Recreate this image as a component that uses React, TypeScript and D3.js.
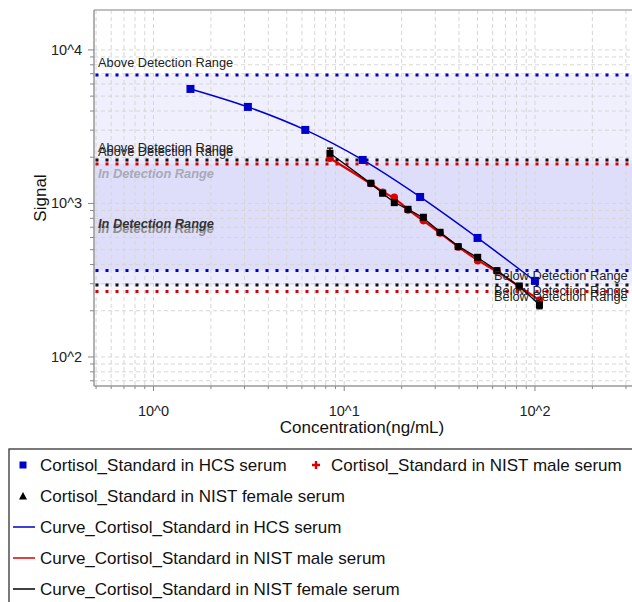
import React from "react";
import * as d3 from "d3";

// ---------- data ----------
const hcsConc = [1.5625, 3.125, 6.25, 12.5, 25, 50, 100];
const hcsSignal = [5570, 4254, 3012, 1920, 1102, 596, 313];

const nistConc = [8.42, 13.8, 15.9, 18.3, 21.6, 26.0, 31.8, 39.6, 50.1, 63.2, 82.7, 105.6];
const maleSignal = [1970, 1350, 1180, 1098, 907, 773, 642, 521, 424, 363, 286, 235];
const femaleSignal = [2123, 1354, 1165, 1012, 916, 813, 649, 523, 446, 365, 290, 218];
const femaleErr = [170, 40, 35, 30, 25, 25, 20, 16, 14, 12, 10, 12];

const rangeSeries = ["HCS", "female", "male"];
const rangeColors = ["#0000cc", "#111111", "#dd0000"];
const rangeUpper = [6875, 1920, 1808];
const rangeLower = [366, 294, 267];
const inRangeColors = ["#a9a9b6", "#333333", "#8c8c8c"];

const xMajorTicks = [1, 10, 100];
const xTickLabels = ["10^0", "10^1", "10^2"];
const yMajorTicks = [100, 1000, 10000];
const yTickLabels = ["10^2", "10^3", "10^4"];

const legendItems = [
  { label: "Cortisol_Standard in HCS serum", kind: "square", color: "#0000cc", x: 0, row: 0 },
  { label: "Cortisol_Standard in NIST male serum", kind: "plus", color: "#dd0000", x: 1, row: 0 },
  { label: "Cortisol_Standard in NIST female serum", kind: "triangle", color: "#000000", x: 0, row: 1 },
  { label: "Curve_Cortisol_Standard in HCS serum", kind: "line", color: "#0000cc", x: 0, row: 2 },
  { label: "Curve_Cortisol_Standard in NIST male serum", kind: "line", color: "#dd0000", x: 0, row: 3 },
  { label: "Curve_Cortisol_Standard in NIST female serum", kind: "line", color: "#000000", x: 0, row: 4 },
];

// ---------- layout ----------
const W = 632;
const H = 602;
const plotL = 94;
const plotR = 630;
const plotT = 10;
const plotB = 386;
const FONT = "'Liberation Sans', Arial, Helvetica, sans-serif";

const x = d3.scaleLog().domain([0.4876, 315]).range([plotL, plotR]);
const y = d3.scaleLog().domain([64.7, 18200]).range([plotB, plotT]);

function minorTicks(lo: number, hi: number) {
  const out: number[] = [];
  for (let p = Math.floor(Math.log10(lo)); p <= Math.ceil(Math.log10(hi)); p++) {
    for (let m = 1; m <= 9; m++) {
      const v = m * Math.pow(10, p);
      if (v >= lo && v <= hi) out.push(v);
    }
  }
  return out;
}

export default function App() {
  const xGrid = minorTicks(0.4876, 400);
  const yGrid = minorTicks(64.7, 18200);

  const hcsPts: [number, number][] = hcsConc.map((c, i) => [x(c), y(hcsSignal[i])]);
  const malePts: [number, number][] = nistConc.map((c, i) => [x(c), y(maleSignal[i])]);
  const femalePts: [number, number][] = nistConc.map((c, i) => [x(c), y(femaleSignal[i])]);

  const lineCR = d3.line().curve(d3.curveCatmullRom.alpha(0.5));
  const lineB = d3.line().curve(d3.curveBasis);

  const bandAlpha = [0.09, 0.05, 0.05];

  return (
    <div style={{ position: "absolute", left: 0, top: 0 }}>
      <svg width={W} height={H} style={{ display: "block", background: "#fff" }} fontFamily={FONT}>
        <defs>
          <clipPath id="plotclip">
            <rect x={plotL} y={plotT} width={W - plotL} height={plotB - plotT} />
          </clipPath>
        </defs>

        {/* bands */}
        <g clipPath="url(#plotclip)">
          {rangeSeries.map((s, i) => (
            <rect
              key={"band" + s}
              x={plotL}
              width={W - plotL}
              y={y(rangeUpper[i])}
              height={y(rangeLower[i]) - y(rangeUpper[i])}
              fill="#5050eb"
              fillOpacity={bandAlpha[i]}
            />
          ))}
        </g>

        {/* grid */}
        <g stroke="#d6d6d6" strokeWidth={1} strokeDasharray="4 3">
          {xGrid.map((v) =>
            x(v) > plotL + 1 && x(v) <= W ? (
              <line key={"gx" + v} x1={x(v)} x2={x(v)} y1={plotT} y2={plotB} />
            ) : null
          )}
          {yGrid.map((v) =>
            y(v) > plotT + 1 && y(v) < plotB - 1 ? (
              <line key={"gy" + v} x1={plotL} x2={W} y1={y(v)} y2={y(v)} />
            ) : null
          )}
        </g>

        {/* axes */}
        <line x1={plotL} x2={W} y1={plotT} y2={plotT} stroke="#aaa" strokeWidth={1.5} />
        <line x1={plotL} x2={plotL} y1={plotT} y2={plotB} stroke="#999" strokeWidth={1.5} />
        <line x1={plotL} x2={W} y1={plotB} y2={plotB} stroke="#999" strokeWidth={1.5} />
        {yGrid.map((v) => (
          <line
            key={"ty" + v}
            x1={plotL - (yMajorTicks.includes(v) ? 6 : 4)}
            x2={plotL}
            y1={y(v)}
            y2={y(v)}
            stroke="#888"
            strokeWidth={1}
          />
        ))}
        {xGrid.map((v) =>
          x(v) > plotL && x(v) <= W ? (
            <line
              key={"tx" + v}
              x1={x(v)}
              x2={x(v)}
              y1={plotB}
              y2={plotB + (xMajorTicks.includes(v) ? 5 : 3)}
              stroke="#888"
              strokeWidth={1}
            />
          ) : null
        )}
        {yMajorTicks.map((v, i) => (
          <text key={"yl" + v} x={82} y={y(v) + 5} textAnchor="end" fontSize={14.5} fill="#222">
            {yTickLabels[i]}
          </text>
        ))}
        {xMajorTicks.map((v, i) => (
          <text key={"xl" + v} x={x(v)} y={416} textAnchor="middle" fontSize={14.5} fill="#222">
            {xTickLabels[i]}
          </text>
        ))}
        <text x={362} y={433} textAnchor="middle" fontSize={17} fill="#111">
          Concentration(ng/mL)
        </text>
        <text
          transform={`translate(46,${(plotT + plotB) / 2}) rotate(-90)`}
          textAnchor="middle"
          fontSize={17}
          fill="#111"
        >
          Signal
        </text>

        {/* detection range lines */}
        <g clipPath="url(#plotclip)">
          {rangeSeries.map((s, i) => (
            <g key={"rl" + s}>
              <line
                x1={plotL + 1.5}
                x2={W}
                y1={y(rangeUpper[i])}
                y2={y(rangeUpper[i])}
                stroke={rangeColors[i]}
                strokeWidth={3}
                strokeDasharray="3 7"
              />
              <line
                x1={plotL + 1.5}
                x2={W}
                y1={y(rangeLower[i])}
                y2={y(rangeLower[i])}
                stroke={rangeColors[i]}
                strokeWidth={3}
                strokeDasharray="3 7"
              />
            </g>
          ))}
        </g>

        {/* range labels */}
        {rangeSeries.map((s, i) => (
          <text key={"ab" + s} x={98} y={y(rangeUpper[i]) - 8} fontSize={12.8} fill="#222">
            Above Detection Range
          </text>
        ))}
        {[0, 2, 1].map((i) => (
          <text
            key={"in" + i}
            x={98}
            y={(y(rangeUpper[i]) + y(rangeLower[i])) / 2 + 5}
            fontSize={12.8}
            fontWeight="bold"
            fontStyle="italic"
            fill={inRangeColors[i]}
          >
            In Detection Range
          </text>
        ))}

        {/* curves */}
        <path d={lineCR(hcsPts) || ""} fill="none" stroke="#0000cc" strokeWidth={1.5} />
        <path d={lineB(malePts) || ""} fill="none" stroke="#dd0000" strokeWidth={2.2} />
        <path d={lineB(femalePts) || ""} fill="none" stroke="#000" strokeWidth={1.3} />

        {/* error bars female */}
        {nistConc.map((c, i) => {
          const cx = x(c);
          const y1 = y(femaleSignal[i] + femaleErr[i]);
          const y2 = y(femaleSignal[i] - femaleErr[i]);
          return (
            <g key={"eb" + i} stroke="#000" strokeWidth={1.3}>
              <line x1={cx} x2={cx} y1={y1} y2={y2} />
              <line x1={cx - 3} x2={cx + 3} y1={y1} y2={y1} />
              <line x1={cx - 3} x2={cx + 3} y1={y2} y2={y2} />
            </g>
          );
        })}

        {/* markers */}
        {malePts.map(([px, py], i) => (
          <circle key={"m" + i} cx={px} cy={py} r={3.8} fill="#dd0000" />
        ))}
        {femalePts.map(([px, py], i) => (
          <rect key={"f" + i} x={px - 3.5} y={py - 3.5} width={7} height={7} fill="#000" />
        ))}
        {hcsPts.map(([px, py], i) => (
          <rect key={"h" + i} x={px - 4} y={py - 4} width={8} height={8} fill="#0000cc" />
        ))}

        {rangeSeries.map((s, i) => (
          <text key={"bl" + s} x={494} y={y(rangeLower[i]) + 10} fontSize={12.8} fill="#222">
            Below Detection Range
          </text>
        ))}

        {/* legend */}
        <rect x={9} y={449} width={W} height={H} fill="#fff" stroke="#222" strokeWidth={1.2} />
        {legendItems.map((it, i) => {
          const cy = 465 + it.row * 31;
          const mx = it.x === 0 ? 23 : 316;
          const tx = it.x === 0 ? 40 : 331;
          let marker: React.ReactNode = null;
          if (it.kind === "square")
            marker = <rect x={mx - 3.5} y={cy - 3.5} width={7} height={7} fill={it.color} />;
          else if (it.kind === "plus")
            marker = (
              <path
                d={`M${mx - 1.2},${cy - 4}h2.4v2.8h2.8v2.4h-2.8v2.8h-2.4v-2.8h-2.8v-2.4h2.8z`}
                fill={it.color}
              />
            );
          else if (it.kind === "triangle")
            marker = <path d={`M${mx},${cy - 4}L${mx + 4},${cy + 3.5}L${mx - 4},${cy + 3.5}Z`} fill={it.color} />;
          else marker = <line x1={13} x2={35} y1={cy} y2={cy} stroke={it.color} strokeWidth={1.5} />;
          return (
            <g key={"lg" + i}>
              {marker}
              <text x={tx} y={cy + 6} fontSize={17} fill="#111">
                {it.label}
              </text>
            </g>
          );
        })}
      </svg>
    </div>
  );
}
